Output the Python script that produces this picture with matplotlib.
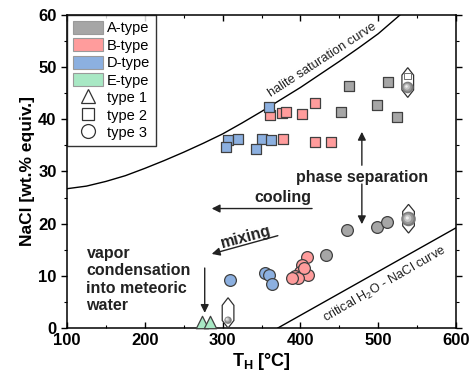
import numpy as np
import matplotlib
matplotlib.use("Agg")
import matplotlib.pyplot as plt
from matplotlib.patches import Patch, Polygon
from matplotlib.lines import Line2D

plt.rcParams["font.family"] = ["Liberation Sans", "DejaVu Sans"]
plt.rcParams["mathtext.fontset"] = "custom"
plt.rcParams["mathtext.rm"] = "Liberation Sans"
plt.rcParams["mathtext.it"] = "Liberation Sans:italic"
plt.rcParams["mathtext.bf"] = "Liberation Sans:bold"

# ---- fluid inclusion data: homogenisation temperature (deg C) and salinity (wt.% NaCl equiv.)
a_sq_T = [462, 512, 498, 452, 524]
a_sq_S = [46.3, 47.2, 42.8, 41.4, 40.5]
a_ci_T = [460, 499, 511, 433]
a_ci_S = [18.8, 19.4, 20.3, 14.0]

b_sq_T = [361, 376, 381.5, 402, 419, 377, 419, 439]
b_sq_S = [40.8, 41.3, 41.4, 41.0, 43.1, 36.2, 35.7, 35.7]
b_ci_T = [408, 402, 399.5, 393, 410, 397, 389, 404]
b_ci_S = [13.7, 12.1, 10.8, 9.9, 10.2, 9.6, 9.6, 11.5]

d_sq_T = [360, 307, 320, 305, 350, 362, 343]
d_sq_S = [42.3, 36.0, 36.2, 34.7, 36.2, 36.0, 34.4]
d_ci_T = [309.5, 355, 359, 363]
d_ci_S = [9.2, 10.5, 10.2, 8.5]

e_tr_T = [273, 284]
e_tr_S = [1.06, 1.06]

# averages with their spread (T, mean salinity, min, max)
rng_T = [538, 539, 307]
rng_S = [46.1, 20.9, 1.5]
rng_lo = [44.2, 18.2, 0.0]
rng_hi = [49.9, 23.7, 5.8]

# reference curves
halite_T = [100, 125, 150, 175, 200, 225, 250, 275, 300, 325, 350, 375,
            400, 425, 450, 475, 500, 528]
halite_S = [26.7, 27.2, 28.1, 29.2, 30.6, 32.1, 33.7, 35.4, 37.2, 39.3, 41.5, 43.8,
            46.1, 48.6, 51.1, 53.7, 56.4, 60.0]
crit_T = [371, 600]
crit_S = [0.0, 19.2]

colors = {"A": "#a6a6a6", "B": "#ff9c9c", "D": "#8cb0e0", "E": "#a8e8c4"}
edge = "#404040"

fig = plt.figure(figsize=(4.74, 3.84), dpi=100)
ax = fig.add_axes([0.1414, 0.1458, 0.8206, 0.8152])

ax.plot(halite_T, halite_S, color="black", lw=1.0, zorder=2)
ax.plot(crit_T, crit_S, color="black", lw=1.0, zorder=2)

sq = 62
ci = 72
kw = dict(edgecolors=edge, linewidths=0.9, zorder=4)
ax.scatter(b_sq_T, b_sq_S, s=sq, marker="s", c=colors["B"], **kw)
ax.scatter(d_sq_T, d_sq_S, s=sq, marker="s", c=colors["D"], **kw)
ax.scatter(a_sq_T, a_sq_S, s=sq, marker="s", c=colors["A"], **kw)
ax.scatter(b_ci_T, b_ci_S, s=ci, marker="o", c=colors["B"], **kw)
ax.scatter(d_ci_T, d_ci_S, s=ci, marker="o", c=colors["D"], **kw)
ax.scatter(a_ci_T, a_ci_S, s=ci, marker="o", c=colors["A"], **kw)
ax.scatter(e_tr_T, e_tr_S, s=80, marker="^", c=colors["E"], clip_on=False, **kw)

# spread glyphs: elongated hexagon with a shaded mean marker inside
half_w = 7.5
circle_sizes = [70, 110, 28]
for T, S, lo, hi, cs in zip(rng_T, rng_S, rng_lo, rng_hi, circle_sizes):
    h = hi - lo
    verts = [(T, hi), (T + half_w, hi - 0.25 * h), (T + half_w, lo + 0.25 * h),
             (T, lo), (T - half_w, lo + 0.25 * h), (T - half_w, hi - 0.25 * h)]
    ax.add_patch(Polygon(verts, closed=True, fill=True, facecolor="white",
                         edgecolor="#303030", lw=0.9, zorder=5))
    for k, (f, c) in enumerate([(1.0, "#7a7a7a"), (0.75, "#9a9a9a"),
                                (0.5, "#c4c4c4"), (0.22, "#efefef")]):
        off = (1 - f) * 0.9
        ax.scatter([T - off * half_w * 0.3], [S + off * h * 0.05], s=cs * f * f,
                   c=c, edgecolors="none", zorder=6 + k)
# small type-2 square in the upper glyph
ax.scatter([rng_T[0]], [48.3], s=22, marker="s", facecolors="none",
           edgecolors="#707070", linewidths=0.7, zorder=6)

# annotations
bold = dict(fontsize=11.5, fontweight="bold", color="#222222")
arrow = dict(arrowstyle="-|>", color="#222222", lw=1.0, mutation_scale=12,
             shrinkA=0, shrinkB=0)
ax.text(479, 28.8, "phase separation", ha="center", va="center", **bold)
ax.annotate("", xy=(479, 37.6), xytext=(479, 31.2), arrowprops=arrow)
ax.annotate("", xy=(479, 19.9), xytext=(479, 27.6), arrowprops=arrow)

ax.text(377, 25.1, "cooling", ha="center", va="center", **bold)
ax.annotate("", xy=(286, 22.9), xytext=(415, 22.9), arrowprops=arrow)

ax.text(330, 17.4, "mixing", ha="center", va="center", rotation=15, **bold)
ax.annotate("", xy=(286, 14.2), xytext=(371, 17.7), arrowprops=arrow)

ax.text(125, 9.3, "vapor\ncondensation\ninto meteoric\nwater", ha="left",
        va="center", linespacing=1.2, **bold)
ax.annotate("", xy=(277, 2.9), xytext=(277, 11.5), arrowprops=arrow)

ax.text(428, 51.3, "halite saturation curve", ha="center", va="center",
        rotation=33, fontsize=9.3, color="#222222")
ax.text(508, 8.4, "critical H$_2$O - NaCl curve", ha="center", va="center",
        rotation=30, fontsize=9.2, color="#222222")

# axes
ax.set_xlim(100, 600)
ax.set_ylim(0, 60)
ax.set_xticks([100, 200, 300, 400, 500, 600])
ax.set_yticks([0, 10, 20, 30, 40, 50, 60])
ax.set_xticks(np.arange(150, 600, 100), minor=True)
ax.set_yticks(np.arange(5, 60, 10), minor=True)
ax.tick_params(axis="both", which="major", labelsize=12, width=1.0, length=4,
               top=True, right=True)
ax.tick_params(axis="both", which="minor", width=0.8, length=2.5,
               top=True, right=True)
ax.tick_params(axis="x", which="both", direction="in")
ax.tick_params(axis="y", which="both", direction="out")
for lab in ax.get_xticklabels() + ax.get_yticklabels():
    lab.set_fontweight("bold")
for sp in ax.spines.values():
    sp.set_linewidth(1.1)
ax.set_xlabel(r"$\mathbf{T_H}$ [°C]", fontsize=13, fontweight="bold", labelpad=2)
ax.set_ylabel("NaCl [wt.% equiv.]", fontsize=12.5, fontweight="bold", labelpad=2)

handles = [Patch(facecolor=colors[k], edgecolor="#9a9a9a", lw=0.8) for k in "ABDE"]
handles += [Line2D([], [], ls="none", marker=m, ms=ms, mfc="white", mec="#333333",
                   mew=0.9) for m, ms in [("^", 10.5), ("s", 8.5), ("o", 10)]]
labels = ["A-type", "B-type", "D-type", "E-type", "type 1", "type 2", "type 3"]
leg = ax.legend(handles, labels, loc="upper left", fontsize=10.5, frameon=True,
                fancybox=False, edgecolor="black", borderaxespad=0,
                handlelength=2.1, handleheight=1.0, labelspacing=0.2,
                handletextpad=0.25, borderpad=0.4)
leg.get_frame().set_linewidth(1.0)

fig.savefig("out.png", dpi=100)
